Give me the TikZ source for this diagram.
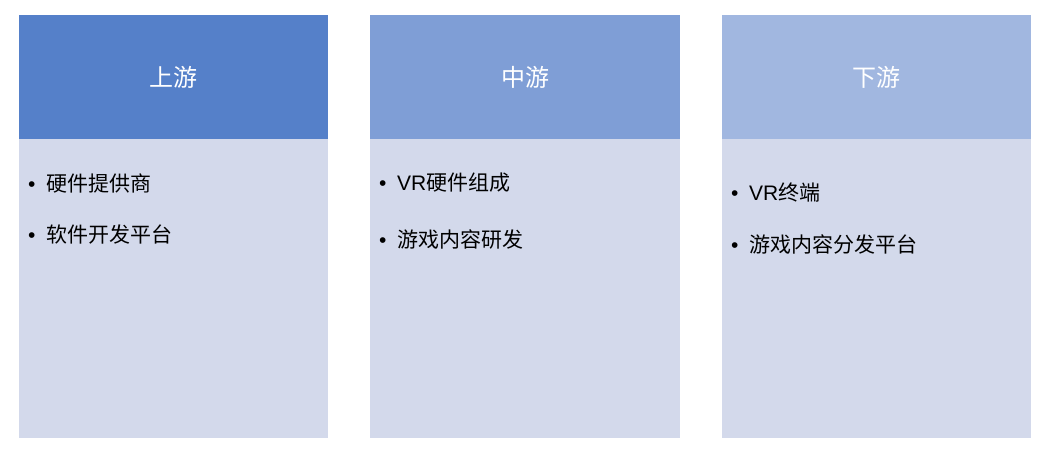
\documentclass[tikz,border=0pt]{standalone}
\usepackage{fontspec}
\setmainfont{Liberation Sans}
\newfontfamily\cjk{Noto Sans CJK SC}
\usetikzlibrary{positioning}
\definecolor{headA}{HTML}{5580C9}
\definecolor{headB}{HTML}{7F9ED6}
\definecolor{headC}{HTML}{A1B7E0}
\definecolor{bodyfill}{HTML}{D3D9EB}
\tikzset{
         head/.style={shape=rectangle,minimum width=309.5,minimum height=124,inner sep=0,
          text=white,font=\fontsize{24}{28}\selectfont\cjk},
         bodybox/.style={shape=rectangle,fill=bodyfill,minimum width=309.5,minimum height=298.5,inner sep=0},
         item/.style={anchor=west,inner sep=0,font=\fontsize{21}{25}\selectfont}
        }

\begin{document}
\begin{tikzpicture}[x=1pt,y=-1pt]
\useasboundingbox(0,0)rectangle(1047,458);
%upstream
\node[head,fill=headA](upH)at(173.5,77){上游};
\node[bodybox,below=0pt of upH](upB){};
\node[item](upI)at(28,183){\textbullet\hspace{10.5pt}{\cjk 硬件提供商}};
\node[item](upII)at(28,235){\textbullet\hspace{10.5pt}{\cjk 软件开发平台}};
%midstream
\node[head,fill=headB](midH)at(525,77){中游};
\node[bodybox,below=0pt of midH](midB){};
\node[item](midI)at(379,183){\textbullet\hspace{10.5pt}VR{\cjk 硬件组成}};
\node[item](midII)at(379,239.5){\textbullet\hspace{10.5pt}{\cjk 游戏内容研发}};
%downstream
\node[head,fill=headC](downH)at(876.5,77){下游};
\node[bodybox,below=0pt of downH](downB){};
\node[item](downI)at(731,192.5){\textbullet\hspace{10.5pt}VR{\cjk 终端}};
\node[item](downII)at(731,244.5){\textbullet\hspace{10.5pt}{\cjk 游戏内容分发平台}};
\end{tikzpicture}
\end{document}
